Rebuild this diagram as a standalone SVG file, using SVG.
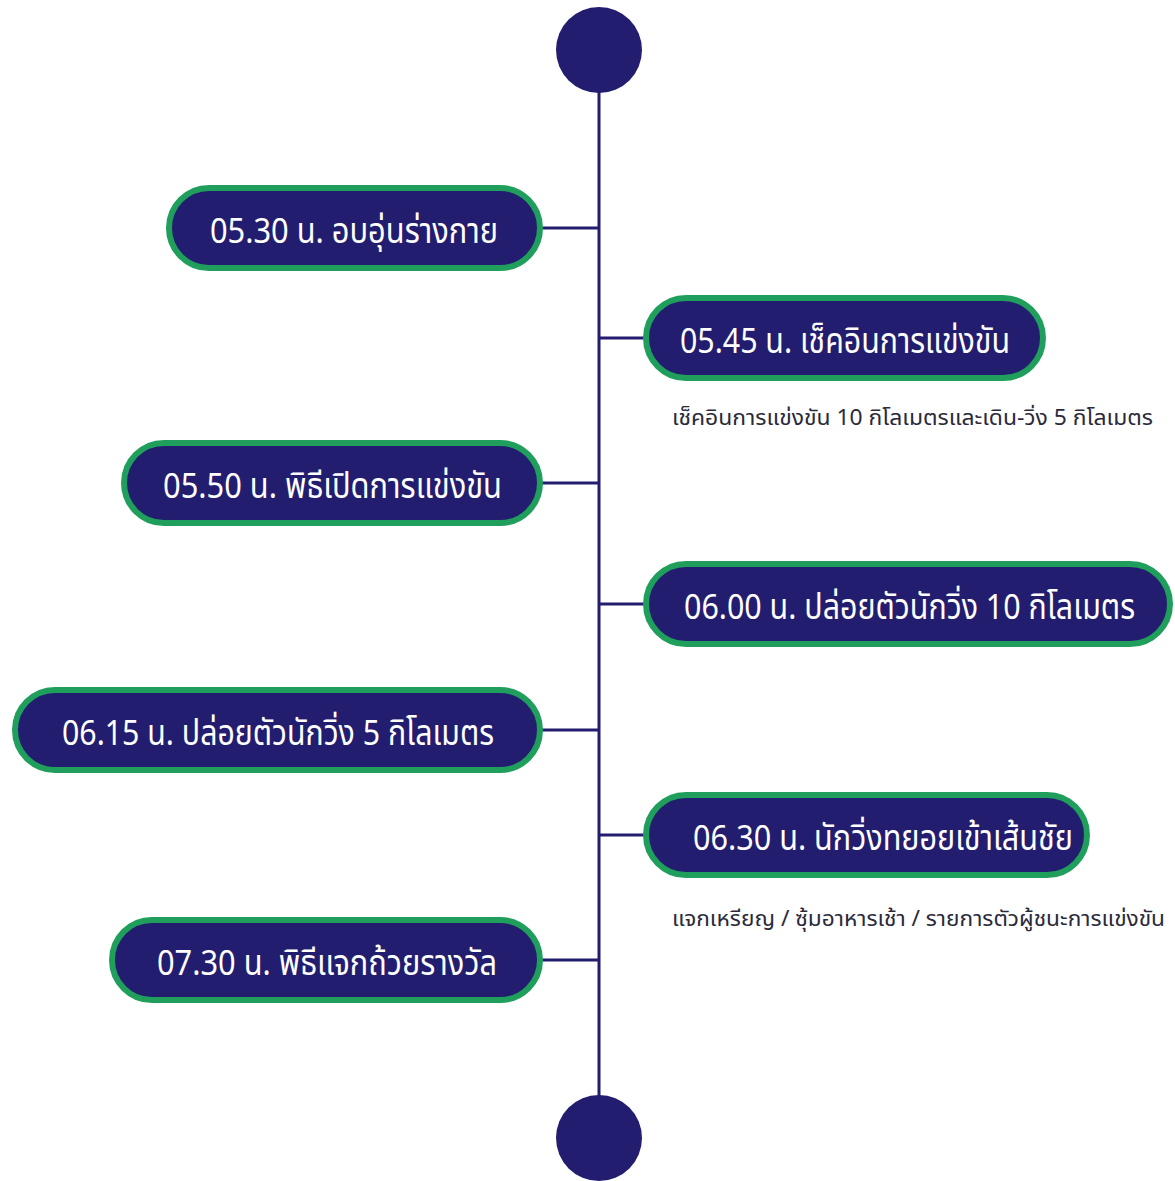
<svg xmlns="http://www.w3.org/2000/svg" width="1175" height="1181" viewBox="0 0 1175 1181">
<style>
.pill{fill:#231d70;stroke:#1f9e5c;stroke-width:6}
.lbl{fill:#ffffff;font-family:"Noto Sans Thai","Noto Sans","DejaVu Sans",sans-serif;font-size:35px}
.sub{fill:#2a2a3a;font-family:"Noto Sans Thai","Noto Sans","DejaVu Sans",sans-serif;font-size:21px}
.ln{stroke:#231d70;stroke-width:3;fill:none}
.dot{fill:#231d70}
</style>
<rect width="1175" height="1181" fill="#ffffff"/>
<g id="connectors">
<line class="ln" x1="599" y1="80" x2="599" y2="1110"/>
<line class="ln" x1="540" y1="228" x2="599" y2="228"/>
<line class="ln" x1="599" y1="338" x2="645" y2="338"/>
<line class="ln" x1="540" y1="483" x2="599" y2="483"/>
<line class="ln" x1="599" y1="604" x2="645" y2="604"/>
<line class="ln" x1="540" y1="730" x2="599" y2="730"/>
<line class="ln" x1="599" y1="835" x2="645" y2="835"/>
<line class="ln" x1="540" y1="960" x2="599" y2="960"/>
</g>
<g id="start"><circle class="dot" cx="599" cy="50" r="43"/></g>
<g id="end"><circle class="dot" cx="599" cy="1138" r="43"/></g>
<g id="n1">
<rect class="pill" x="169" y="188" width="371" height="80" rx="40"/>
<text class="lbl" x="210" y="243" textLength="288" lengthAdjust="spacingAndGlyphs">05.30 น. อบอุ่นร่างกาย</text>
</g>
<g id="n2">
<rect class="pill" x="646" y="298" width="397" height="80" rx="40"/>
<text class="lbl" x="680" y="353" textLength="330" lengthAdjust="spacingAndGlyphs">05.45 น. เช็คอินการแข่งขัน</text>
<text class="sub" x="672" y="425" textLength="481" lengthAdjust="spacingAndGlyphs">เช็คอินการแข่งขัน 10 กิโลเมตรและเดิน-วิ่ง 5 กิโลเมตร</text>
</g>
<g id="n3">
<rect class="pill" x="124" y="443" width="416" height="80" rx="40"/>
<text class="lbl" x="163" y="498" textLength="339" lengthAdjust="spacingAndGlyphs">05.50 น. พิธีเปิดการแข่งขัน</text>
</g>
<g id="n4">
<rect class="pill" x="646" y="564" width="524" height="80" rx="40"/>
<text class="lbl" x="684" y="619" textLength="451" lengthAdjust="spacingAndGlyphs">06.00 น. ปล่อยตัวนักวิ่ง 10 กิโลเมตร</text>
</g>
<g id="n5">
<rect class="pill" x="15" y="690" width="525" height="80" rx="40"/>
<text class="lbl" x="62" y="745" textLength="432" lengthAdjust="spacingAndGlyphs">06.15 น. ปล่อยตัวนักวิ่ง 5 กิโลเมตร</text>
</g>
<g id="n6">
<rect class="pill" x="646" y="795" width="441" height="80" rx="40"/>
<text class="lbl" x="693" y="850" textLength="380" lengthAdjust="spacingAndGlyphs">06.30 น. นักวิ่งทยอยเข้าเส้นชัย</text>
<text class="sub" x="672" y="926" textLength="493" lengthAdjust="spacingAndGlyphs">แจกเหรียญ / ซุ้มอาหารเช้า / รายการตัวผู้ชนะการแข่งขัน</text>
</g>
<g id="n7">
<rect class="pill" x="112" y="920" width="428" height="80" rx="40"/>
<text class="lbl" x="157" y="975" textLength="340" lengthAdjust="spacingAndGlyphs">07.30 น. พิธีแจกถ้วยรางวัล</text>
</g>
</svg>
